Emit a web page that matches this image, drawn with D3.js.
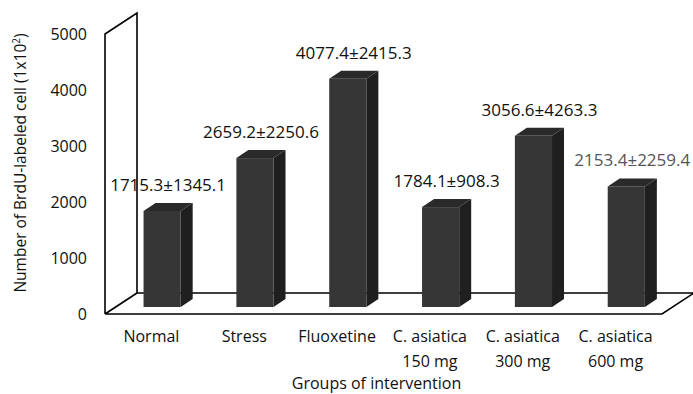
<!DOCTYPE html>
<html>
<head>
<meta charset="utf-8">
<script src="https://cdn.jsdelivr.net/npm/d3@7/dist/d3.min.js"></script>
<style>
  html, body { margin: 0; padding: 0; background: #fff; }
  svg { display: block; font-family: "Open Sans", sans-serif; }
</style>
</head>
<body>
<svg id="chart" width="693" height="394"></svg>
<script>
// ---- data ----
const categories = [
  ["Normal"],
  ["Stress"],
  ["Fluoxetine"],
  ["C. asiatica", "150 mg"],
  ["C. asiatica", "300 mg"],
  ["C. asiatica", "600 mg"]
];
const means = [1715.3, 2659.2, 4077.4, 1784.1, 3056.6, 2153.4];
const sds   = [1345.1, 2250.6, 2415.3, 908.3, 4263.3, 2259.4];
const yTicks = [0, 1000, 2000, 3000, 4000, 5000];
const yTitle = "Number of BrdU-labeled cell (1x10";
const xTitle = "Groups of intervention";

// ---- layout ----
const svg = d3.select("#chart");
const x0 = 105, x1 = 662;       // front floor edge
const depth = { dx: 32, dy: -21 }; // full wall depth
const barOff = { dx: 10.7, dy: -7 }; // bar base position inside depth
const barDepth = { dx: 12, dy: -8 };

const x = d3.scaleBand().domain(d3.range(categories.length)).range([x0, x1]).paddingInner(0).paddingOuter(0);
const y = d3.scaleLinear().domain([0, 5000]).range([314, 34]);
const barW = x.bandwidth() * 0.4;

// ---- walls ----
const g = svg.append("g");
const yb = y(0), yt = y(5000);
const wallPath = d3.path();
wallPath.moveTo(x0, yb); wallPath.lineTo(x0, yt);
wallPath.lineTo(x0 + depth.dx, yt + depth.dy);
wallPath.lineTo(x0 + depth.dx, yb + depth.dy);
wallPath.lineTo(x0, yb);
wallPath.moveTo(x0 + depth.dx, yb + depth.dy);
wallPath.lineTo(x1 + depth.dx, yb + depth.dy);
wallPath.lineTo(x1, yb);
wallPath.lineTo(x0, yb);
g.append("path").attr("d", wallPath.toString())
  .attr("fill", "none").attr("stroke", "#000").attr("stroke-width", 1.6)
  .attr("stroke-linejoin", "miter");

// ---- bars ----
const bars = svg.append("g");
means.forEach((v, i) => {
  const cx = x(i) + x.bandwidth() / 2 + barOff.dx;
  const left = cx - barW / 2, right = cx + barW / 2;
  const bot = y(0) + barOff.dy, top = y(v) + barOff.dy;
  bars.append("path")
    .attr("d", `M${right},${bot}L${right},${top}L${right + barDepth.dx},${top + barDepth.dy}L${right + barDepth.dx},${bot + barDepth.dy}Z`)
    .attr("fill", "#1f1f1f");
  bars.append("path")
    .attr("d", `M${left},${top}L${right},${top}L${right + barDepth.dx},${top + barDepth.dy}L${left + barDepth.dx},${top + barDepth.dy}Z`)
    .attr("fill", "#2a2a2a");
  bars.append("rect")
    .attr("x", left).attr("y", top).attr("width", barW).attr("height", bot - top)
    .attr("fill", "#363636");
  svg.append("text")
    .attr("x", cx + barDepth.dx / 2)
    .attr("y", top - 20)
    .attr("text-anchor", "middle")
    .attr("font-size", 17)
    .attr("fill", i === means.length - 1 ? "#555" : "#111")
    .text(`${v.toFixed(1)}±${sds[i].toFixed(1)}`);
});

// ---- y axis ----
const yAxis = d3.axisLeft(y).tickValues(yTicks).tickSize(0).tickPadding(18).tickFormat(d3.format("d"));
const ya = svg.append("g").attr("transform", `translate(${x0},0)`).call(yAxis);
ya.select(".domain").remove();
ya.selectAll("text").attr("font-size", 16).attr("fill", "#111")
  .attr("font-family", "Open Sans, sans-serif").attr("dy", "0.33em");

// ---- x category labels ----
const xl = svg.append("g");
categories.forEach((lines, i) => {
  const t = xl.append("text")
    .attr("x", x(i) + x.bandwidth() / 2)
    .attr("y", 342)
    .attr("text-anchor", "middle")
    .attr("font-size", 16).attr("fill", "#111");
  lines.forEach((ln, j) => {
    t.append("tspan").attr("x", x(i) + x.bandwidth() / 2).attr("dy", j === 0 ? 0 : 25).text(ln);
  });
});

// ---- titles ----
svg.append("text")
  .attr("x", (x0 + x1) / 2 - 7).attr("y", 389)
  .attr("text-anchor", "middle").attr("font-size", 16).attr("fill", "#111")
  .text(xTitle);

const yt2 = svg.append("text")
  .attr("transform", `translate(26,${163}) rotate(-90)`)
  .attr("text-anchor", "middle").attr("font-size", 15.5).attr("fill", "#111");
yt2.append("tspan").text(yTitle);
yt2.append("tspan").attr("dy", -6).attr("font-size", 10).text("2");
yt2.append("tspan").attr("dy", 6).text(")");
</script>
</body>
</html>
